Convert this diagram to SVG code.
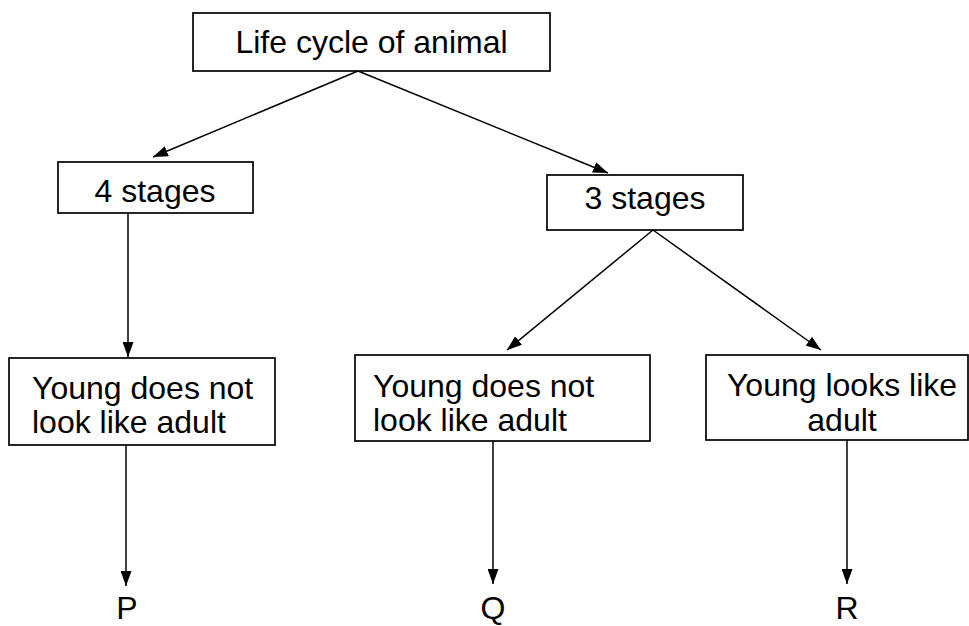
<svg xmlns="http://www.w3.org/2000/svg" width="969" height="626" viewBox="0 0 969 626">
  <defs>
    <marker id="arr" markerWidth="15" markerHeight="11" refX="15" refY="5.5" orient="auto" markerUnits="userSpaceOnUse">
      <path d="M0,0 L15,5.5 L0,11 z" fill="#000"/>
    </marker>
    <style>
      .box { fill: #fff; stroke: #000; stroke-width: 1.7; }
      .lbl { font-family: "Liberation Sans", Arial, sans-serif; font-size: 32px; fill: #000; }
      .c { text-anchor: middle; }
      .edge { stroke: #000; stroke-width: 1.5; fill: none; marker-end: url(#arr); }
    </style>
  </defs>
  <rect width="969" height="626" fill="#fff"/>

  <g id="connectors">
    <line class="edge" x1="358" y1="71" x2="153" y2="157"/>
    <line class="edge" x1="358" y1="71" x2="608" y2="173"/>
    <line class="edge" x1="128" y1="213" x2="128" y2="357"/>
    <line class="edge" x1="653" y1="230" x2="507" y2="350"/>
    <line class="edge" x1="653" y1="230" x2="821" y2="350"/>
    <line class="edge" x1="126" y1="445" x2="126" y2="586"/>
    <line class="edge" x1="493" y1="441" x2="493" y2="584"/>
    <line class="edge" x1="847" y1="440" x2="847" y2="584"/>
  </g>

  <g id="node-root">
    <rect class="box" x="193" y="13" width="357" height="58"/>
    <text class="lbl c" x="371.5" y="53" font-size="33">Life cycle of animal</text>
  </g>

  <g id="node-4stages">
    <rect class="box" x="58" y="162" width="195" height="51"/>
    <text class="lbl c" x="155" y="202" font-size="33">4 stages</text>
  </g>

  <g id="node-3stages">
    <rect class="box" x="547" y="175" width="196" height="55"/>
    <text class="lbl c" x="645" y="209" font-size="33">3 stages</text>
  </g>

  <g id="node-young-left">
    <rect class="box" x="9" y="358" width="266" height="87"/>
    <text class="lbl" x="32" y="399">Young does not</text>
    <text class="lbl" x="32" y="433">look like adult</text>
  </g>

  <g id="node-young-mid">
    <rect class="box" x="355" y="355" width="295" height="86"/>
    <text class="lbl" x="373" y="397">Young does not</text>
    <text class="lbl" x="373" y="431">look like adult</text>
  </g>

  <g id="node-young-right">
    <rect class="box" x="706" y="355" width="262" height="85"/>
    <text class="lbl c" x="842" y="396">Young looks like</text>
    <text class="lbl c" x="842" y="431">adult</text>
  </g>

  <g id="node-P">
    <text class="lbl c" x="127" y="619" font-size="28">P</text>
  </g>
  <g id="node-Q">
    <text class="lbl c" x="493" y="619" font-size="28">Q</text>
  </g>
  <g id="node-R">
    <text class="lbl c" x="847" y="619" font-size="28">R</text>
  </g>
</svg>
